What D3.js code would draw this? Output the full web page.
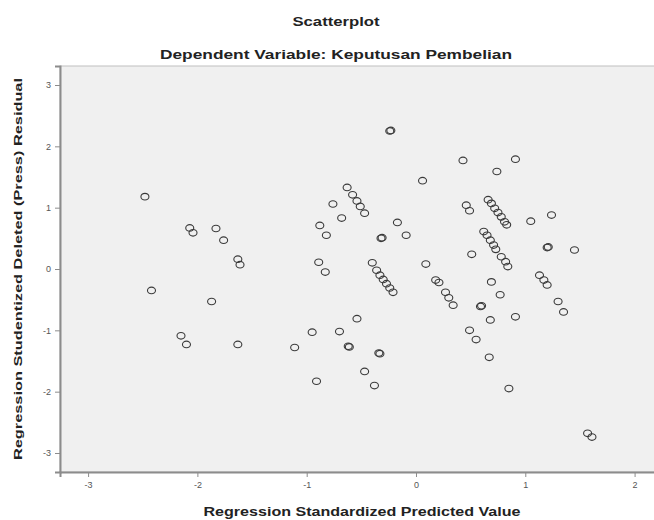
<!DOCTYPE html>
<html>
<head>
<meta charset="utf-8">
<script src="https://cdn.jsdelivr.net/npm/d3@7"></script>
<style>
  body { margin: 0; background: #ffffff; }
  text { font-family: Arial, "Liberation Sans", sans-serif; }
</style>
</head>
<body>
<div id="chart-container"></div>
<script>
// Predicted values (x) and studentized deleted residuals (y)
const predicted = [
    -2.48, -2.42, -2.15, -2.10, -2.07, -2.04, -1.87, -1.83, -1.76, -1.63, -1.61, -1.63,
    -1.11, -0.95, -0.91, -0.89, -0.88, -0.83, -0.82, -0.76, -0.70, -0.68,
    -0.63, -0.58, -0.54, -0.51, -0.47,
    -0.61, -0.62, -0.54, -0.47, -0.38, -0.33, -0.34, -0.32, -0.31,
    -0.23, -0.24, -0.17, -0.09,
    -0.40, -0.36, -0.33, -0.30, -0.27, -0.24, -0.21,
    0.06, 0.09,
    0.18, 0.21, 0.27, 0.30, 0.34,
    0.43, 0.46, 0.49, 0.51, 0.49, 0.55, 0.59, 0.60, 0.67, 0.68, 0.69, 0.77, 0.74, 0.91,
    0.66, 0.69, 0.72, 0.75, 0.78, 0.81, 0.83,
    0.62, 0.65, 0.68, 0.71, 0.73, 0.78, 0.82, 0.84,
    0.85, 0.91, 1.05, 1.24, 1.20, 1.21, 1.45,
    1.13, 1.17, 1.20, 1.30, 1.35, 1.57, 1.61
];
const residuals = [
    1.18, -0.35, -1.09, -1.23, 0.67, 0.59, -0.53, 0.66, 0.47, 0.16, 0.07, -1.23,
    -1.28, -1.03, -1.83, 0.11, 0.71, -0.05, 0.55, 1.06, -1.02, 0.83,
    1.33, 1.21, 1.11, 1.02, 0.91,
    -1.27, -1.26, -0.81, -1.67, -1.90, -1.38, -1.37, 0.50, 0.51,
    2.26, 2.25, 0.76, 0.55,
    0.10, -0.02, -0.10, -0.17, -0.24, -0.31, -0.38,
    1.44, 0.08,
    -0.18, -0.22, -0.38, -0.47, -0.59,
    1.77, 1.04, 0.95, 0.24, -1.00, -1.15, -0.61, -0.60, -1.44, -0.83, -0.21, -0.42, 1.59, 1.79,
    1.13, 1.07, 0.99, 0.92, 0.85, 0.77, 0.72,
    0.61, 0.55, 0.47, 0.39, 0.32, 0.20, 0.12, 0.04,
    -1.95, -0.78, 0.78, 0.88, 0.35, 0.36, 0.31,
    -0.10, -0.18, -0.26, -0.53, -0.70, -2.68, -2.74
];
const xTicks = [-3, -2, -1, 0, 1, 2];
const yTicks = [-3, -2, -1, 0, 1, 2, 3];

const points = predicted.map((x, i) => ({ x: x, y: residuals[i] }));

const width = 654;
const height = 520;
const margin = { top: 66, left: 60, bottom: 48 };

const xScale = d3.scaleLinear()
    .domain([-3.257, 2.3])
    .range([margin.left, margin.left + 5.557 * 109.3]);

const yScale = d3.scaleLinear()
    .domain([-3.31, 3.31])
    .range([height - margin.bottom, margin.top]);

const svg = d3.select("#chart-container")
    .append("svg")
    .attr("width", width)
    .attr("height", height);

// Plot background
svg.append("rect")
    .attr("x", xScale.range()[0])
    .attr("y", yScale.range()[1])
    .attr("width", xScale.range()[1] - xScale.range()[0])
    .attr("height", yScale.range()[0] - yScale.range()[1])
    .attr("fill", "#f0f0f0")
    .attr("stroke", "#c0c0c0")
    .attr("stroke-width", 1);

// Axes (plain hyphen for negatives, like the original)
const axisX = d3.axisBottom(xScale).tickValues(xTicks).tickFormat(d => String(d)).tickSize(5).tickPadding(5);
const axisY = d3.axisLeft(yScale).tickValues(yTicks).tickFormat(d => String(d)).tickSize(5).tickPadding(4);

const gx = svg.append("g")
    .attr("transform", `translate(0, ${yScale.range()[0]})`)
    .call(axisX);
const gy = svg.append("g")
    .attr("transform", `translate(${xScale.range()[0]}, 0)`)
    .call(axisY);

[gx, gy].forEach(g => {
    g.select(".domain").attr("stroke", "#8c8c8c").attr("stroke-width", 2);
    g.selectAll(".tick line").attr("stroke", "#8c8c8c").attr("stroke-width", 1);
    g.selectAll(".tick text")
        .style("font-size", "9px")
        .style("fill", "#555");
});

// Points
svg.append("g")
    .selectAll("ellipse")
    .data(points)
    .enter()
    .append("ellipse")
    .attr("cx", d => xScale(d.x))
    .attr("cy", d => yScale(d.y))
    .attr("rx", 4)
    .attr("ry", 3.3)
    .attr("fill", "none")
    .attr("stroke", "#3a3a3a")
    .attr("stroke-width", 1.1);

// Titles
svg.append("text")
    .text("Scatterplot")
    .attr("x", 336)
    .attr("y", 26)
    .attr("text-anchor", "middle")
    .attr("textLength", 87)
    .attr("lengthAdjust", "spacingAndGlyphs")
    .style("font-size", "12px")
    .style("font-weight", "bold")
    .style("fill", "#222");

svg.append("text")
    .text("Dependent Variable: Keputusan Pembelian")
    .attr("x", 336)
    .attr("y", 59)
    .attr("text-anchor", "middle")
    .attr("textLength", 352)
    .attr("lengthAdjust", "spacingAndGlyphs")
    .style("font-size", "12px")
    .style("font-weight", "bold")
    .style("fill", "#222");

svg.append("text")
    .text("Regression Standardized Predicted Value")
    .attr("x", 362)
    .attr("y", 516)
    .attr("text-anchor", "middle")
    .attr("textLength", 317)
    .attr("lengthAdjust", "spacingAndGlyphs")
    .style("font-size", "12px")
    .style("font-weight", "bold")
    .style("fill", "#222");

svg.append("text")
    .text("Regression Studentized Deleted (Press) Residual")
    .attr("transform", "translate(22, 269) rotate(-90)")
    .attr("text-anchor", "middle")
    .attr("textLength", 382)
    .attr("lengthAdjust", "spacingAndGlyphs")
    .style("font-size", "11px")
    .style("font-weight", "bold")
    .style("fill", "#222");
</script>
</body>
</html>
